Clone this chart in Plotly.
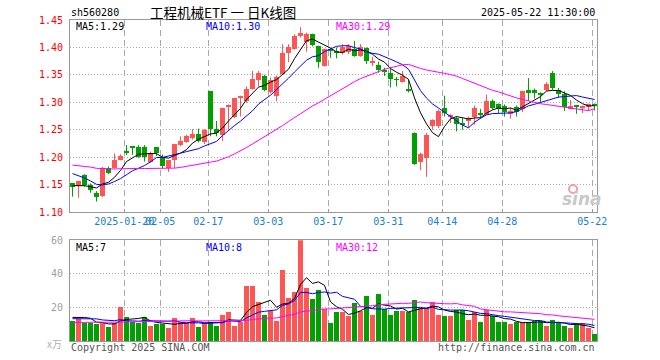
import pandas as pd
import plotly.graph_objects as go

# ---------------- data ----------------
opens = [1.152, 1.148, 1.168, 1.150, 1.134, 1.129, 1.181, 1.180, 1.195, 1.210,
         1.219, 1.218, 1.218, 1.192, 1.218, 1.200, 1.181, 1.194, 1.222, 1.228,
         1.235, 1.243, 1.227, 1.320, 1.252, 1.241, 1.292, 1.274, 1.308, 1.302,
         1.325, 1.341, 1.348, 1.318, 1.311, 1.351, 1.390, 1.398, 1.420, 1.409,
         1.424, 1.402, 1.366, 1.397, 1.394, 1.389, 1.392, 1.397, 1.385, 1.399,
         1.372, 1.368, 1.359, 1.354, 1.342, 1.3375, 1.323, 1.244, 1.192, 1.199,
         1.257, 1.257, 1.290, 1.274, 1.271, 1.262, 1.265, 1.273, 1.279, 1.279,
         1.303, 1.296, 1.294, 1.278, 1.292, 1.287, 1.323, 1.3215, 1.317, 1.322,
         1.353, 1.322, 1.316, 1.288, 1.294, 1.291, 1.292, 1.295]
highs = [1.153, 1.157, 1.169, 1.152, 1.138, 1.182, 1.183, 1.207, 1.205, 1.222,
         1.219, 1.222, 1.222, 1.210, 1.218, 1.205, 1.195, 1.224, 1.238, 1.241,
         1.251, 1.252, 1.251, 1.320, 1.266, 1.290, 1.296, 1.308, 1.312, 1.329,
         1.357, 1.357, 1.350, 1.345, 1.349, 1.406, 1.406, 1.424, 1.437, 1.427,
         1.425, 1.403, 1.398, 1.398, 1.400, 1.406, 1.406, 1.412, 1.406, 1.400,
         1.383, 1.374, 1.363, 1.363, 1.346, 1.357, 1.342, 1.245, 1.208, 1.244,
         1.269, 1.287, 1.312, 1.279, 1.274, 1.271, 1.274, 1.294, 1.288, 1.314,
         1.305, 1.298, 1.296, 1.290, 1.294, 1.321, 1.344, 1.325, 1.318, 1.337,
         1.357, 1.326, 1.320, 1.304, 1.294, 1.294, 1.298, 1.298]
lows = [1.128, 1.126, 1.146, 1.135, 1.119, 1.127, 1.169, 1.179, 1.194, 1.204,
        1.204, 1.199, 1.192, 1.190, 1.202, 1.180, 1.173, 1.180, 1.220, 1.226,
        1.232, 1.227, 1.224, 1.238, 1.238, 1.229, 1.250, 1.271, 1.274, 1.299,
        1.323, 1.329, 1.320, 1.316, 1.302, 1.350, 1.373, 1.396, 1.418, 1.392,
        1.402, 1.363, 1.365, 1.381, 1.380, 1.387, 1.388, 1.383, 1.383, 1.370,
        1.366, 1.354, 1.348, 1.327, 1.329, 1.336, 1.318, 1.186, 1.176, 1.164,
        1.250, 1.253, 1.274, 1.262, 1.247, 1.250, 1.253, 1.259, 1.271, 1.277,
        1.287, 1.280, 1.274, 1.270, 1.274, 1.282, 1.302, 1.307, 1.300, 1.320,
        1.322, 1.308, 1.284, 1.287, 1.279, 1.280, 1.284, 1.285]
closes = [1.145, 1.156, 1.150, 1.140, 1.128, 1.181, 1.172, 1.195, 1.203, 1.209,
          1.218, 1.201, 1.200, 1.207, 1.207, 1.183, 1.194, 1.224, 1.229, 1.238,
          1.243, 1.229, 1.250, 1.252, 1.244, 1.290, 1.294, 1.307, 1.310, 1.325,
          1.343, 1.353, 1.323, 1.340, 1.347, 1.390, 1.401, 1.420, 1.426, 1.424,
          1.405, 1.374, 1.397, 1.394, 1.389, 1.400, 1.403, 1.385, 1.400, 1.375,
          1.375, 1.359, 1.357, 1.342, 1.341, 1.348, 1.321, 1.188, 1.206, 1.240,
          1.268, 1.285, 1.280, 1.276, 1.261, 1.260, 1.271, 1.289, 1.278, 1.303,
          1.290, 1.288, 1.282, 1.285, 1.283, 1.320, 1.317, 1.3175, 1.314, 1.334,
          1.326, 1.316, 1.292, 1.294, 1.292, 1.293, 1.296, 1.294]
volumes = [11.6, 12.8, 10.8, 10.8, 10.0, 10.8, 8.4, 10.8, 19.8, 14.3,
           11.4, 10.8, 14.3, 9.0, 9.8, 9.8, 7.8, 13.4, 11.4, 10.8,
           13.4, 8.4, 10.4, 11.4, 9.0, 15.3, 16.9, 9.0, 11.4, 32.3,
           32.7, 23.3, 15.3, 17.7, 11.8, 41.9, 25.7, 29.1, 60.0, 31.7,
           25.1, 30.3, 18.7, 10.8, 17.3, 17.3, 14.9, 22.7, 17.7, 26.9,
           15.3, 28.1, 18.7, 15.3, 17.7, 17.7, 17.3, 24.3, 19.3, 19.7,
           23.1, 15.3, 14.9, 14.9, 18.1, 18.1, 12.4, 16.9, 11.2, 18.1,
           14.9, 11.2, 11.2, 10.0, 11.2, 11.2, 11.2, 11.6, 11.6, 9.0,
           12.4, 11.2, 9.0, 7.4, 10.0, 10.6, 7.4, 4.0]
# sessions before the visible window, estimated from where the MA lines begin
prior_closes = [1.180, 1.185, 1.190, 1.195, 1.200, 1.195, 1.190, 1.190, 1.189,
                1.215, 1.205, 1.205, 1.210, 1.210, 1.190, 1.195, 1.190, 1.190, 1.176,
                1.165, 1.195, 1.190, 1.195, 1.190, 1.190, 1.156, 1.150, 1.150, 1.139]
prior_volumes = [9.5, 10.2, 8.8, 11.0, 9.6, 10.4, 9.0, 10.8, 9.4, 10.1,
                 9.7, 10.5, 8.9, 10.3, 9.9, 10.6, 9.2, 10.0, 9.8, 10.3,
                 12.8, 10.8, 11.4, 10.2, 17.4, 12.8, 10.8, 13.4, 21.6]
tick_index = [9, 15, 23, 33, 43, 53, 62, 72, 87]
tick_labels = ["2025-01-20", "02-05", "02-17", "03-03", "03-17", "03-31",
               "04-14", "04-28", "05-22"]
price_ticks = [1.10, 1.15, 1.20, 1.25, 1.30, 1.35, 1.40, 1.45]
vol_ticks = [20, 40, 60]

# ---------------- styling ----------------
W, H = 660, 360
L, R, T, B = 70, 63, 20, 19
RED, GREEN = "#ff5555", "#00a000"
MONO = "DejaVu Sans Mono"
GRID = "#aaaaaa"
FRAME = "#999999"
min_body = 0.0012

n = len(closes)
x = list(range(n))
cser = pd.Series(prior_closes + closes)
vser = pd.Series(prior_volumes + volumes)
ma = {k: cser.rolling(k).mean().iloc[-n:].tolist() for k in (5, 10, 30)}
vma = {k: vser.rolling(k).mean().iloc[-n:].tolist() for k in (5, 10, 30)}

up = [c >= o for o, c in zip(opens, closes)]
cols = [RED if u else GREEN for u in up]

fig = go.Figure()

# wicks
for flag, col in ((True, RED), (False, GREEN)):
    wx, wy = [], []
    for i in range(n):
        if up[i] == flag:
            wx += [i, i, None]
            wy += [lows[i], highs[i], None]
    fig.add_trace(go.Scatter(x=wx, y=wy, mode="lines", line=dict(color=col, width=1),
                             hoverinfo="skip", xaxis="x", yaxis="y"))

# bodies
fig.add_trace(go.Bar(x=x, base=[min(o, c) for o, c in zip(opens, closes)],
                     y=[max(abs(c - o), min_body) for o, c in zip(opens, closes)],
                     width=5 / 6, marker=dict(color=cols, line=dict(width=0)),
                     xaxis="x", yaxis="y"))

for k, col in ((5, "#000000"), (10, "#0000ff"), (30, "#ff00ff")):
    fig.add_trace(go.Scatter(x=x, y=ma[k], mode="lines", line=dict(color=col, width=1),
                             xaxis="x", yaxis="y"))

# volume
fig.add_trace(go.Bar(x=x, y=volumes, width=5 / 6, marker=dict(color=cols, line=dict(width=0)),
                     xaxis="x2", yaxis="y2"))
for k, col in ((5, "#000000"), (10, "#0000ff"), (30, "#ff00ff")):
    fig.add_trace(go.Scatter(x=x, y=vma[k], mode="lines", line=dict(color=col, width=1),
                             xaxis="x2", yaxis="y2"))

xr = [-5 / 12, n - 1 + 5 / 12]
grid_x = [t - 0.37 for t in tick_index]
xcommon = dict(range=xr, tickvals=grid_x, showgrid=True, gridcolor=GRID, gridwidth=1,
               griddash="6px,4px", showline=True, linecolor=FRAME, linewidth=1, mirror=True,
               zeroline=False, fixedrange=True)
ycommon = dict(showgrid=True, gridcolor=GRID, gridwidth=1, griddash="1px,2px",
               showline=True, linecolor=FRAME, linewidth=1, mirror=True, zeroline=False,
               ticks="", fixedrange=True, ticklabelstandoff=4)

plot_h = H - T - B
fig.update_layout(
    width=W, height=H, margin=dict(l=L, r=R, t=T, b=B, pad=0),
    paper_bgcolor="white", plot_bgcolor="white", showlegend=False, bargap=0,
    font=dict(family=MONO, size=10),
    xaxis=dict(**xcommon, anchor="y", ticktext=tick_labels, ticks="inside", ticklen=3,
               tickangle=0, tickcolor=FRAME,
               tickfont=dict(family=MONO, size=10, color="#1a7fd0")),
    xaxis2=dict(**xcommon, anchor="y2", matches="x", showticklabels=False, ticks=""),
    yaxis=dict(**ycommon, domain=[(H - B - 212) / plot_h, 1], range=[1.10, 1.45],
               tickvals=price_ticks, ticktext=["%.2f" % v for v in price_ticks],
               tickfont=dict(family=MONO, size=10, color="#ff0000")),
    yaxis2=dict(**ycommon, domain=[0, (H - B - 240.3) / plot_h], range=[0, 60],
                tickvals=vol_ticks, ticktext=[str(v) for v in vol_ticks],
                tickfont=dict(family=MONO, size=10, color="#a0a0a0")),
)


def px(v):
    return (v - L) / (W - L - R)


def py(v):
    return (H - B - v) / plot_h


def note(text, x0, y0, color="#000000", xanchor="left", size=10, family=MONO, **kw):
    fig.add_annotation(text=text, x=px(x0), y=py(y0), xref="paper", yref="paper",
                       xanchor=xanchor, yanchor="middle", showarrow=False,
                       font=dict(family=family, size=size, color=color, **kw))


note("sh560280", 69, 12.5)
note("工程机械ETF 一 日K线图", 223, 12.5, xanchor="center", size=13.5,
     family="Noto Sans CJK SC")
note("2025-05-22 11:30:00", 597, 12.5, xanchor="right")
note("MA5:1.29", 74, 26)
note("MA10:1.30", 204, 26, color="#0000ff")
note("MA30:1.29", 334, 26, color="#ff00ff")
note("MA5:7", 74, 247)
note("MA10:8", 204, 247, color="#0000ff")
note("MA30:12", 334, 247, color="#ff00ff")
note("Copyright 2025 SINA.COM", 69, 347, color="#555555")
note("http://finance.sina.com.cn", 597, 347, color="#555555", xanchor="right")
note("x万", 64, 343, color="#b0b0b0", xanchor="right", family="Noto Sans CJK SC")
note("sina", 582, 199, color="#c8c8c8", xanchor="center", size=17, family="DejaVu Sans",
     weight="bold", style="italic")
# small eye mark of the watermark
fig.add_shape(type="circle", xref="paper", yref="paper",
              x0=px(569), x1=px(577), y0=py(193), y1=py(185),
              line=dict(color="#f2a0a0", width=2), fillcolor="rgba(0,0,0,0)")

fig.write_html("out.html", config={"displayModeBar": False},
               post_script="document.body.style.margin='0';")
